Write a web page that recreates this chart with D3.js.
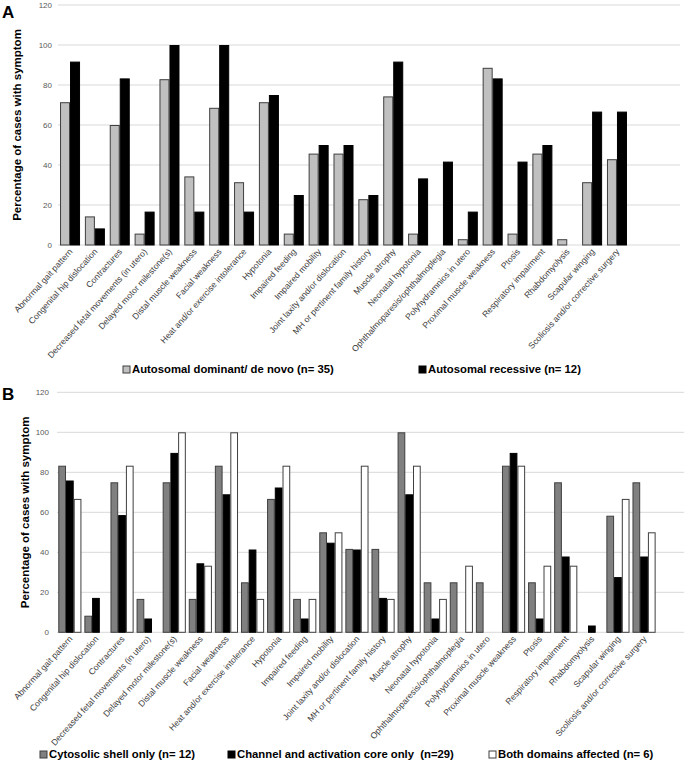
<!DOCTYPE html>
<html><head><meta charset="utf-8">
<script src="https://cdn.jsdelivr.net/npm/d3@7"></script>
<style>body{margin:0;background:#fff}svg{display:block;font-family:"Liberation Sans",Arial,sans-serif}</style>
</head><body><svg id="c" width="685" height="764"></svg>
<script>
const categories = ["Abnormal gait pattern","Congenital hip dislocation","Contractures","Decreased fetal movements (in utero)","Delayed motor milestone(s)","Distal muscle weakness","Facial weakness","Heat and/or exercise intolerance","Hypotonia","Impaired feeding","Impaired mobility","Joint laxity and/or dislocation","MH or pertinent family history","Muscle atrophy","Neonatal hypotonia","Ophthalmoparesis/ophthalmoplegia","Polyhydramnios in utero","Proximal muscle weakness","Ptosis","Respiratory impairment","Rhabdomyolysis","Scapular winging","Scoliosis and/or corrective surgery"];
const yTicks = [0,20,40,60,80,100,120];
// Panel A
const seriesA = ["Autosomal dominant/ de novo (n= 35)","Autosomal recessive (n= 12)"];
const dominantValues = [71.4,14.3,60,5.7,82.9,34.3,68.6,31.4,71.4,5.7,45.7,45.7,22.9,74.3,5.7,0,2.9,88.6,5.7,45.7,2.9,31.4,42.9];
const recessiveValues = [91.7,8.3,83.3,16.7,100,16.7,100,16.7,75,25,50,50,25,91.7,33.3,41.7,16.7,83.3,41.7,50,0,66.7,66.7];
// Panel B
const seriesB = ["Cytosolic shell only (n= 12)","Channel and activation core only  (n=29)","Both domains affected (n= 6)"];
const cytosolicValues = [83.3,8.3,75,16.7,75,16.7,83.3,25,66.7,16.7,50,41.7,41.7,100,25,25,25,83.3,25,75,0,58.3,75];
const channelValues = [75.9,17.2,58.6,6.9,89.7,34.5,69.0,41.4,72.4,6.9,44.8,41.4,17.2,69.0,6.9,0,0,89.7,6.9,37.9,3.4,27.6,37.9];
const bothValues = [66.7,0,83.3,0,100,33.3,100,16.7,83.3,16.7,50,83.3,16.7,83.3,16.7,33.3,0,83.3,33.3,33.3,0,66.7,50];

const svg = d3.select("#c");

function panel(cfg){
  const g = svg.append("g");
  const y = d3.scaleLinear().domain([0,120]).range([cfg.y0, cfg.y1]);
  const x = d3.scaleBand().domain(categories).range([cfg.xStart, cfg.xEnd]).paddingInner(cfg.pad).paddingOuter(cfg.pad/2);
  const xs = d3.scaleBand().domain(cfg.series.map((d,i)=>i)).range([0, x.bandwidth()]);
  g.append("g").selectAll("line").data(yTicks).join("line")
    .attr("x1", cfg.gridX0).attr("x2", cfg.gridX1)
    .attr("y1", d=>y(d)).attr("y2", d=>y(d))
    .attr("stroke", "#d9d9d9").attr("stroke-width", 1);
  g.append("g").selectAll("text").data(yTicks).join("text")
    .attr("x", cfg.tickX).attr("y", d=>y(d)).attr("dy","0.35em")
    .attr("text-anchor","end").attr("font-size", 8).attr("fill","#595959").text(d=>d);
  cfg.values.forEach((vals, si) => {
    g.append("g").selectAll("rect").data(categories.map((c,i)=>({c, v: vals[i]})).filter(d=>d.v>0)).join("rect")
      .attr("x", d=>x(d.c)+xs(si)+0.5)
      .attr("y", d=>y(d.v)+0.5)
      .attr("width", xs.bandwidth()-1)
      .attr("height", d=>y(0)-y(d.v)-0.5)
      .attr("fill", cfg.fills[si]).attr("stroke", cfg.strokes[si]).attr("stroke-width", 1);
  });
  g.append("g").selectAll("text").data(categories).join("text")
    .attr("transform", d=>`translate(${x(d)+x.bandwidth()/2+3},${y(0)+7}) rotate(-48)`)
    .attr("text-anchor","end").attr("font-size", 8.6).attr("fill","#404040")
    .style("text-rendering","geometricPrecision").text(d=>d);
  g.append("text").attr("transform", `translate(${cfg.titleX},${(cfg.y0+cfg.y1)/2}) rotate(-90)`)
    .attr("text-anchor","middle").attr("dy","0.35em").attr("font-size",11.5).attr("font-weight","bold").attr("fill","#000")
    .text("Percentage of cases with symptom");
  g.append("text").attr("x", cfg.letterX).attr("y", cfg.letterY).attr("font-size",17).attr("font-weight","bold").text(cfg.letter);
  cfg.series.forEach((s, si) => {
    const lx = cfg.legendX[si];
    g.append("rect").attr("x", lx).attr("y", cfg.legendY-7).attr("width",7).attr("height",7)
      .attr("fill", cfg.fills[si]).attr("stroke", cfg.strokes[si]).attr("stroke-width",1);
    g.append("text").attr("x", lx+9).attr("y", cfg.legendY).attr("font-size",11.3).attr("font-weight","bold").attr("xml:space","preserve").text(s);
  });
}

panel({
  y0: 245, y1: 5, xStart: 57.6, xEnd: 629.4, pad: 0.195,
  gridX0: 58, gridX1: 680, tickX: 52, titleX: 17,
  series: seriesA, values: [dominantValues, recessiveValues],
  fills: ["#c0c0c0","#000000"], strokes: ["#3f3f3f","#000000"],
  letter: "A", letterX: 2, letterY: 18,
  legendX: [123, 419], legendY: 373
});
panel({
  y0: 632.3, y1: 392.3, xStart: 56.8, xEnd: 657.1, pad: 0.113,
  gridX0: 57, gridX1: 684, tickX: 49, titleX: 25,
  series: seriesB, values: [cytosolicValues, channelValues, bothValues],
  fills: ["#808080","#000000","#ffffff"], strokes: ["#3f3f3f","#000000","#3f3f3f"],
  letter: "B", letterX: 2, letterY: 400,
  legendX: [40, 228, 489], legendY: 758
});
</script></body></html>
